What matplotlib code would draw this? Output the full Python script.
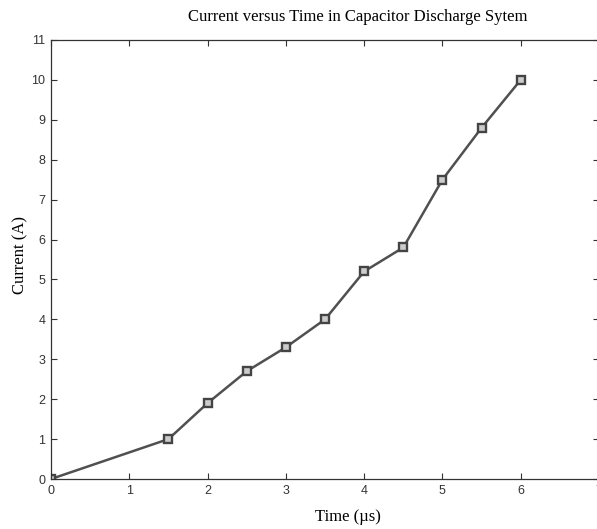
import matplotlib.pyplot as plt

# Data
time_us = [0, 1.5, 2, 2.5, 3, 3.5, 4, 4.5, 5, 5.5, 6]
current_a = [0, 1, 1.9, 2.7, 3.3, 4, 5.2, 5.8, 7.5, 8.8, 10]

fig = plt.figure(figsize=(5.97, 5.29), dpi=100)
ax = fig.add_axes([0.0854, 0.0945, 0.918, 0.830])

ax.plot(
    time_us,
    current_a,
    color="#505050",
    linewidth=1.8,
    marker="s",
    markersize=6,
    markerfacecolor="#cccccc",
    markeredgecolor="#444444",
    markeredgewidth=1.7,
)

ax.set_xlim(0, 7)
ax.set_ylim(0, 11)
ax.set_xticks(range(0, 8))
ax.set_yticks(range(0, 12))

for s in ax.spines.values():
    s.set_color("#333333")
    s.set_linewidth(0.9)

ax.tick_params(
    direction="in",
    top=True,
    right=True,
    length=4,
    width=0.8,
    color="#333333",
    labelsize=9,
    labelcolor="#333333",
    pad=4,
)
for lbl in ax.get_xticklabels() + ax.get_yticklabels():
    lbl.set_family("Liberation Sans")

# Title and axis labels in serif
fig.text(0.60, 0.968, "Current versus Time in Capacitor Discharge Sytem",
         ha="center", va="center", family="Liberation Serif", fontsize=12)
fig.text(0.583, 0.022, "Time (\u00b5s)",
         ha="center", va="center", family="Liberation Serif", fontsize=12)
fig.text(0.034, 0.518, "Current (A)", rotation=90,
         ha="center", va="center", family="Liberation Serif", fontsize=12)

fig.savefig("out.png", dpi=100)
